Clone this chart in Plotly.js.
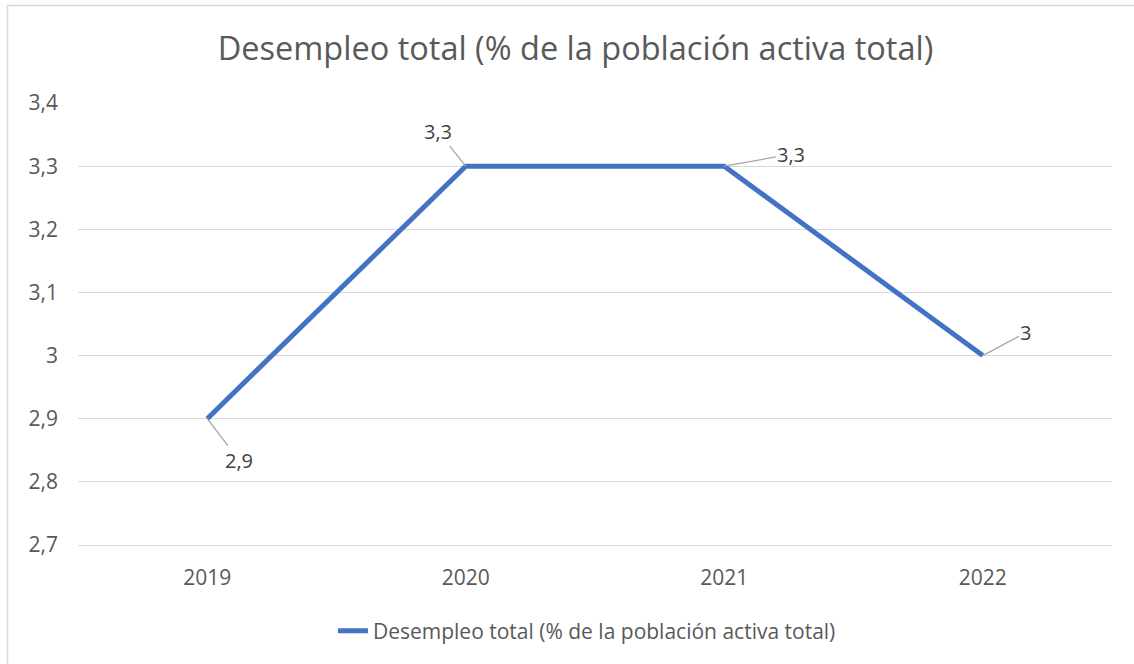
<!DOCTYPE html>
<html>
<head>
<meta charset="utf-8">
<script src="https://cdn.plot.ly/plotly-3.0.1.min.js"></script>
<style>
  html, body { margin: 0; padding: 0; background: #fff; }
  #chart { width: 1134px; height: 664px; }
</style>
</head>
<body>
<div id="chart"></div>
<script>
// datos del grafico
var years = ['2019', '2020', '2021', '2022'];
var desempleo = [2.9, 3.3, 3.3, 3.0];
var serieName = 'Desempleo total (% de la población activa total)';

// desplazamiento de cada etiqueta (px) respecto al punto
var labelDx = [32, -28, 67, 43];
var labelDy = [42, -35, -12, -23];

var gris = '#595959';
var fuente = 'Open Sans, Noto Sans, sans-serif';

var trace = {
  x: years,
  y: desempleo,
  name: serieName,
  type: 'scatter',
  mode: 'lines',
  line: {color: '#4472C4', width: 5},
  showlegend: true
};

// etiquetas de datos con linea guia (indice de categoria como x)
var annotations = desempleo.map(function (v, i) {
  return {
    x: i, y: v, xref: 'x', yref: 'y',
    text: String(v).replace('.', ','),
    showarrow: true, arrowhead: 0, arrowwidth: 1.3, arrowcolor: '#A6A6A6',
    ax: labelDx[i], ay: labelDy[i],
    font: {family: fuente, size: 20, color: '#404040'}
  };
});

var layout = {
  width: 1134,
  height: 664,
  paper_bgcolor: '#fff',
  plot_bgcolor: '#fff',
  separators: ',.',
  margin: {l: 78, r: 22, t: 103, b: 119},
  title: {
    text: 'Desempleo total (% de la población activa total)',
    font: {family: fuente, size: 32.5, color: gris},
    x: 0.5075, xanchor: 'center',
    y: 0.927, yanchor: 'middle'
  },
  xaxis: {
    type: 'category',
    range: [-0.5, 3.5],
    showgrid: false,
    zeroline: false,
    showline: true, linecolor: '#D9D9D9', linewidth: 1,
    ticks: '',
    tickfont: {family: fuente, size: 21, color: gris},
    ticklabelstandoff: 14
  },
  yaxis: {
    range: [2.6999, 3.4001],
    dtick: 0.1, tick0: 2.7,
    showgrid: true, gridcolor: '#D9D9D9', gridwidth: 1,
    zeroline: false,
    showline: false,
    ticks: '',
    tickfont: {family: fuente, size: 21, color: gris},
    ticklabelstandoff: 19
  },
  legend: {
    orientation: 'h',
    x: 0.4922, xanchor: 'center',
    y: -0.195, yanchor: 'middle',
    font: {family: fuente, size: 21, color: gris}
  },
  annotations: annotations,
  shapes: [{
    type: 'rect', xref: 'paper', yref: 'paper',
    x0: -0.0682, x1: 1.2, y0: -0.5, y1: 1.2206,
    line: {color: '#D9D9D9', width: 1.5}
  }]
};

Plotly.newPlot('chart', [trace], layout, {displayModeBar: false, staticPlot: true});
</script>
</body>
</html>
